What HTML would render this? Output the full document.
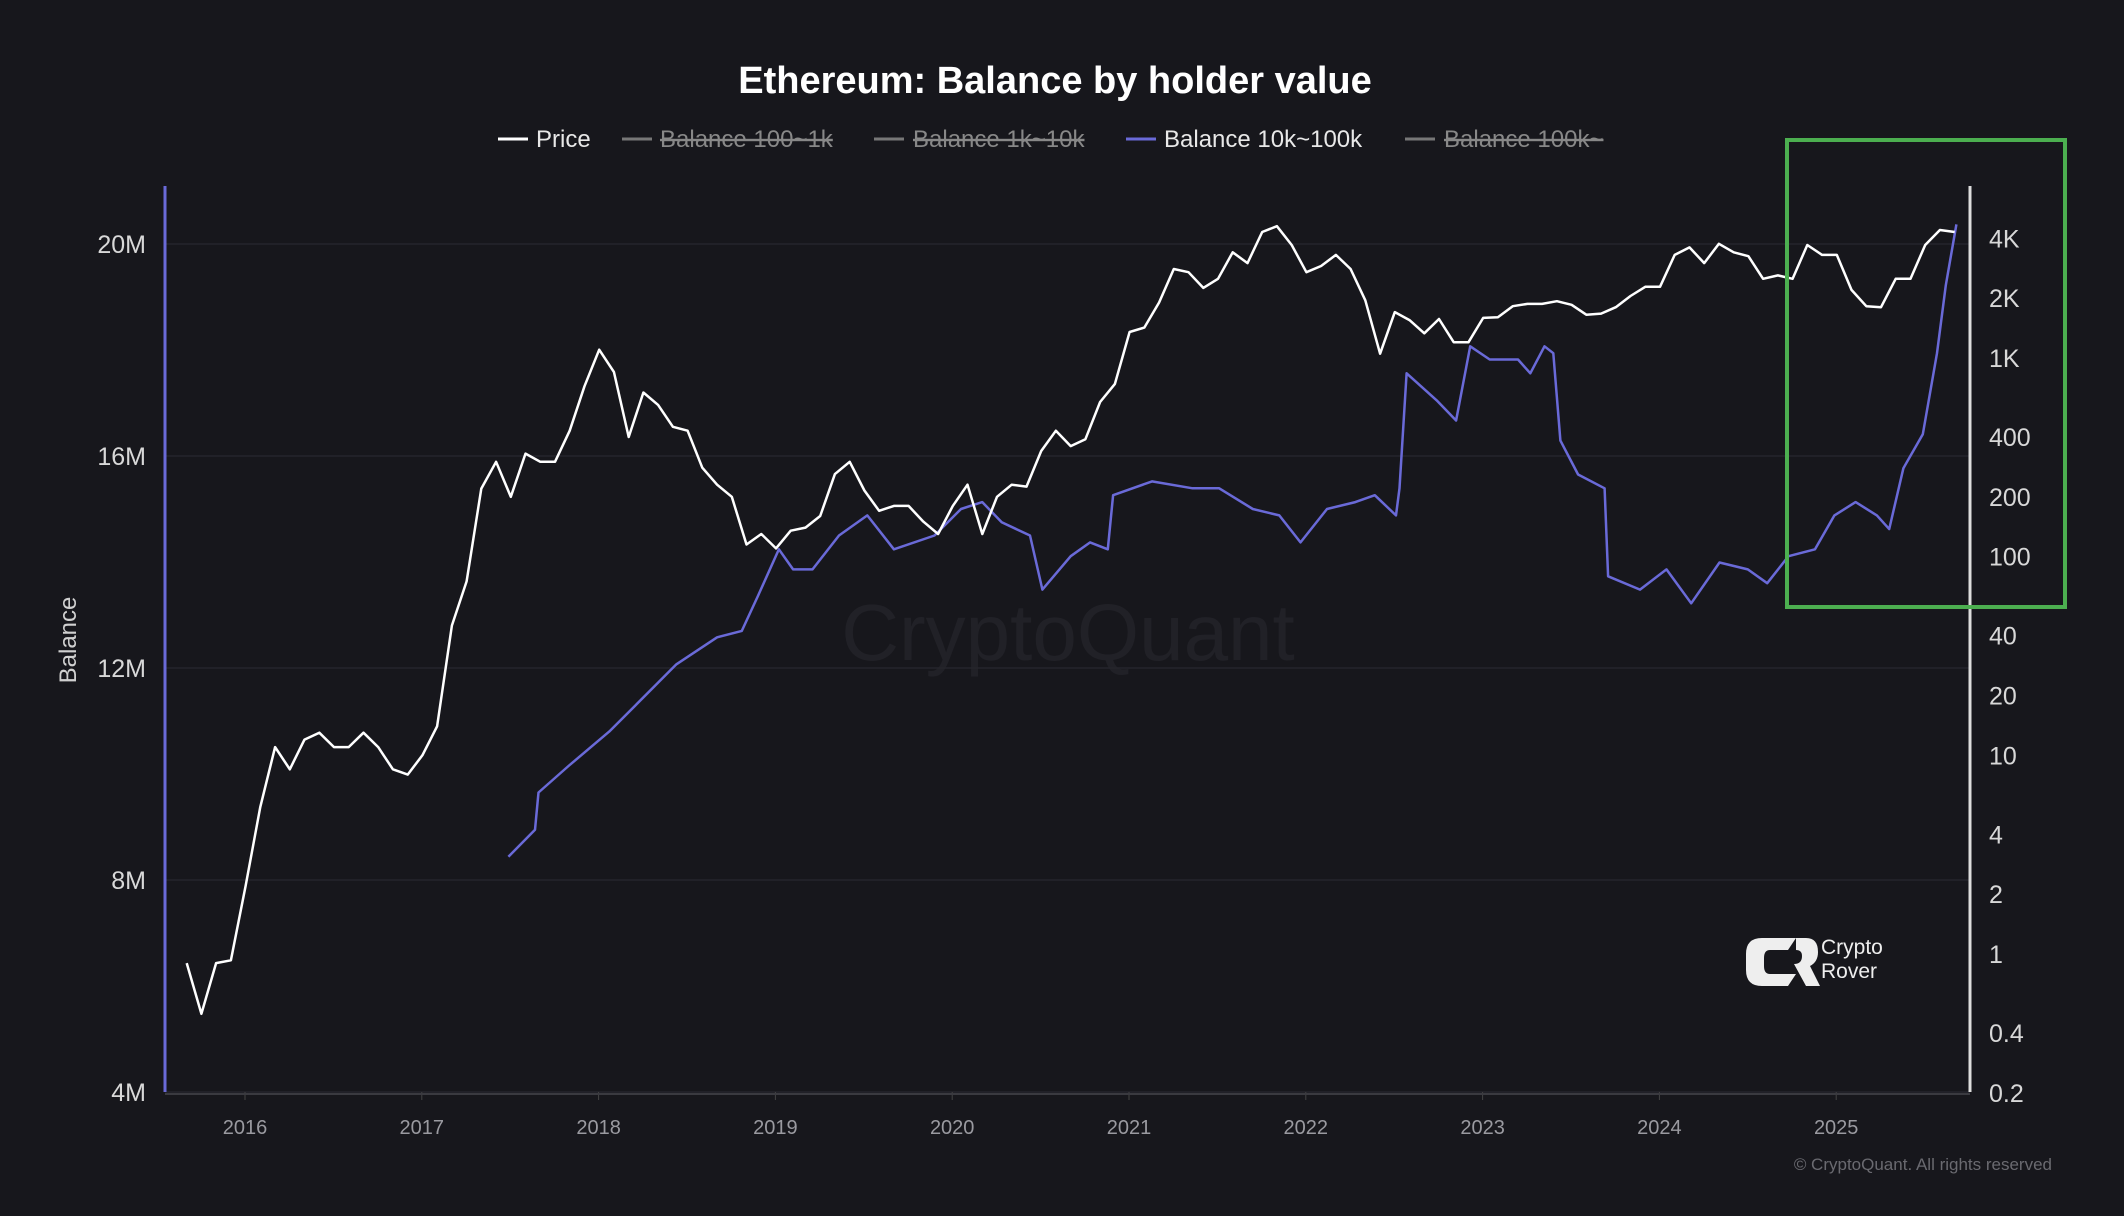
<!DOCTYPE html>
<html><head><meta charset="utf-8">
<style>
html,body{margin:0;padding:0;background:#17171c;}
svg{display:block;font-family:"Liberation Sans",sans-serif;}
</style></head>
<body>
<svg id="chart" width="2124" height="1216" viewBox="0 0 2124 1216" xmlns="http://www.w3.org/2000/svg">
<rect width="2124" height="1216" fill="#17171c"/>
<text x="1055" y="93" text-anchor="middle" fill="#ffffff" font-size="38" font-weight="bold">Ethereum: Balance by holder value</text>
<g font-size="24">
 <g><line x1="498" y1="139" x2="528" y2="139" stroke="#fff" stroke-width="3"/><text x="536" y="147" fill="#e8e8e8">Price</text></g>
 <g><line x1="622" y1="139" x2="652" y2="139" stroke="#777" stroke-width="3"/><text x="660" y="147" fill="#888" text-decoration="line-through">Balance 100~1k</text></g>
 <g><line x1="874" y1="139" x2="904" y2="139" stroke="#777" stroke-width="3"/><text x="913" y="147" fill="#888" text-decoration="line-through">Balance 1k~10k</text></g>
 <g><line x1="1126" y1="139" x2="1156" y2="139" stroke="#6a6ad8" stroke-width="3"/><text x="1164" y="147" fill="#e8e8e8">Balance 10k~100k</text></g>
 <g><line x1="1405" y1="139" x2="1435" y2="139" stroke="#777" stroke-width="3"/><text x="1444" y="147" fill="#888" text-decoration="line-through">Balance 100k~</text></g>
</g>
<text x="1068" y="660" text-anchor="middle" fill="#212127" font-size="80">CryptoQuant</text>
<g id="grid"></g>
<g id="axes"></g>
<g id="series"></g>
<text transform="translate(76,640) rotate(-90)" text-anchor="middle" fill="#d0d0d0" font-size="24">Balance</text>
<g>
 <path d="M1762 938 h34 l-8 12 h-18 q-6 0 -6 8 v8 q0 8 6 8 h26 l-8 12 h-26 q-16 0 -16 -16 v-16 q0 -16 16 -16z" fill="#eee"/>
 <path d="M1796 938 h10 q12 0 12 14 q0 10 -8 14 l10 20 h-14 l-12 -22 q8 0 8 -8 q0 -6 -6 -6z" fill="#eee"/>
 <text x="1821" y="954" fill="#eee" font-size="21">Crypto</text>
 <text x="1821" y="978" fill="#eee" font-size="21">Rover</text>
</g>
<text x="2052" y="1170" text-anchor="end" fill="#6a6a70" font-size="17">© CryptoQuant. All rights reserved</text>
<rect x="1787" y="140" width="278" height="467" fill="none" stroke="#4caf50" stroke-width="4"/>
</svg>
<script>
const yearTicks=[2016,2017,2018,2019,2020,2021,2022,2023,2024,2025];
const balanceTicks=[4,8,12,16,20];
const balanceTickLabels=["4M","8M","12M","16M","20M"];
const priceTicks=[0.2,0.4,1,2,4,10,20,40,100,200,400,1000,2000,4000];
const priceTickLabels=["0.2","0.4","1","2","4","10","20","40","100","200","400","1K","2K","4K"];
const priceStartYear=2015.67;
const priceValues=[0.9,0.5,0.9,0.93,
2.2,5.5,11,8.5,12,13,11,11,13,11,8.5,8,
10,14,45,75,220,300,200,330,300,300,430,720,
1100,850,400,670,580,450,430,280,230,200,115,130,
110,135,140,160,260,300,215,170,180,180,150,130,
180,230,130,200,230,225,340,430,360,390,600,740,
1350,1420,1900,2800,2700,2250,2500,3400,3000,4300,4600,3700,
2700,2900,3300,2800,1950,1050,1700,1550,1330,1570,1200,1200,
1590,1600,1820,1870,1870,1930,1850,1650,1670,1800,2050,2280,
2280,3300,3600,3000,3750,3400,3250,2500,2600,2500,3700,3300,
3300,2200,1820,1800,2500,2500,3700,4400,4300];
const balanceDates=[2017.49,2017.64,2017.66,2017.83,2018.06,2018.21,2018.44,2018.67,2018.81,2018.90,2019.02,2019.10,2019.21,2019.36,2019.52,2019.67,2019.90,2020.05,2020.17,2020.28,2020.44,2020.51,2020.67,2020.78,2020.88,2020.91,2021.13,2021.36,2021.51,2021.70,2021.85,2021.97,2022.12,2022.28,2022.39,2022.51,2022.53,2022.57,2022.74,2022.85,2022.93,2023.04,2023.20,2023.27,2023.35,2023.40,2023.44,2023.54,2023.69,2023.71,2023.89,2024.04,2024.18,2024.34,2024.50,2024.61,2024.73,2024.88,2024.99,2025.11,2025.23,2025.30,2025.38,2025.49,2025.57,2025.62,2025.68];
const balanceValues=[8.44,8.95,9.65,10.15,10.8,11.3,12.07,12.58,12.7,13.35,14.24,13.86,13.86,14.5,14.88,14.24,14.5,15.0,15.13,14.75,14.5,13.48,14.11,14.37,14.24,15.26,15.52,15.39,15.39,15.0,14.88,14.37,15.0,15.13,15.26,14.88,15.39,17.56,17.05,16.67,18.07,17.82,17.82,17.56,18.07,17.94,16.29,15.65,15.39,13.73,13.48,13.86,13.22,13.99,13.86,13.6,14.11,14.24,14.88,15.13,14.88,14.62,15.77,16.41,17.94,19.22,20.37];

const NS="http://www.w3.org/2000/svg";
const L=165,R=1970,T=186,B=1092;
const xS=y=>245+(y-2016)*176.8;
const yB=v=>B-(v-4)*(B-244)/16;
const yP=v=>954-Math.log10(v)*198.7;
function mk(tag,attrs,parent){const e=document.createElementNS(NS,tag);for(const k in attrs)e.setAttribute(k,attrs[k]);parent.appendChild(e);return e;}
const grid=document.getElementById('grid'),axes=document.getElementById('axes'),series=document.getElementById('series');
balanceTicks.forEach((v,i)=>{
 const g=mk('line',{x1:L,x2:R,y1:yB(v),y2:yB(v),stroke:'#25252c','stroke-width':1.5},grid);
 
 
 const t=mk('text',{x:146,y:yB(v)+9,'text-anchor':'end',fill:'#d8d8d8','font-size':25},axes);
 t.textContent=balanceTickLabels[i];
 
 
});
priceTicks.forEach((v,i)=>{
 const t=mk('text',{x:1989,y:yP(v)+9,fill:'#d8d8d8','font-size':25},axes);
 t.textContent=priceTickLabels[i];
 
 
});
yearTicks.forEach(y=>{
 const tk=mk('line',{x1:xS(y),x2:xS(y),y1:B,y2:B+8,stroke:'#444'},axes);
 
 
 const t=mk('text',{x:xS(y),y:1134,'text-anchor':'middle',fill:'#9a9aa0','font-size':20},axes);
 t.textContent=y;
 
 
});
const xl=mk('line',{x1:L,x2:R,y1:B+2,y2:B+2,stroke:'#3a3a40','stroke-width':2},axes);


const la=mk('line',{x1:L,x2:L,y1:T,y2:B,stroke:'#6a6ad8','stroke-width':3},axes);


const ra=mk('line',{x1:R,x2:R,y1:T,y2:B,stroke:'#dddddd','stroke-width':3},axes);



const bp=balanceDates.map((d,i)=>xS(d).toFixed(1)+','+yB(balanceValues[i]).toFixed(1)).join(' ');
const bl=mk('polyline',{points:bp,fill:'none',stroke:'#6a6ad8','stroke-width':2.5,'stroke-linejoin':'round'},series);


const pp=priceValues.map((v,i)=>xS(priceStartYear+i/12).toFixed(1)+','+yP(v).toFixed(1)).join(' ');
const pl=mk('polyline',{points:pp,fill:'none',stroke:'#ffffff','stroke-width':2.5,'stroke-linejoin':'round'},series);


</script>
</body></html>
